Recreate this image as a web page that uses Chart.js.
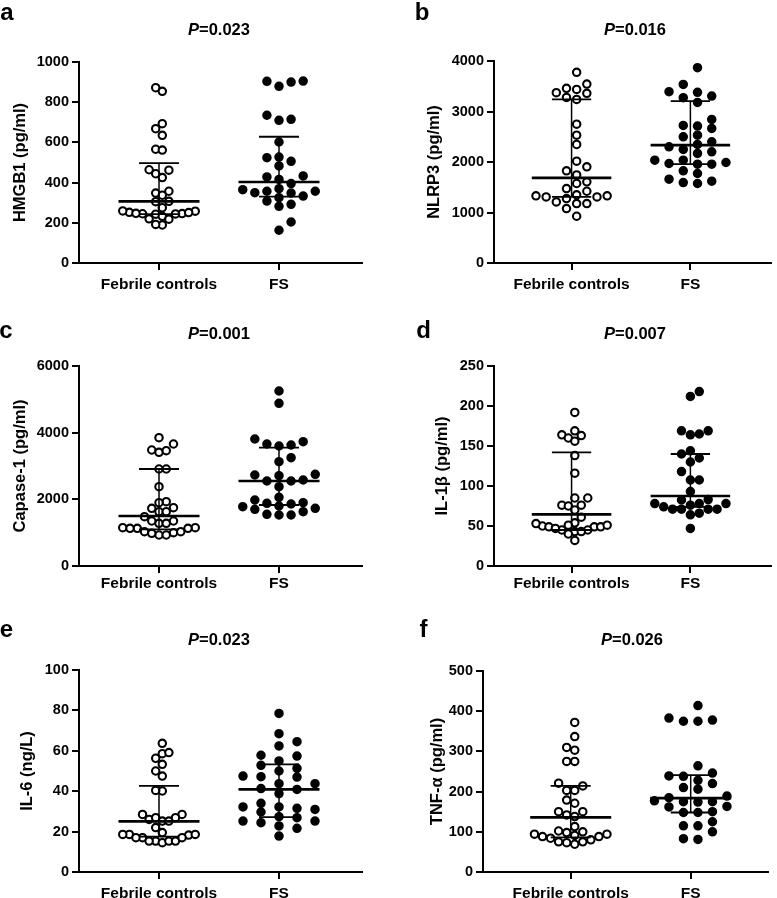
<!DOCTYPE html>
<html><head><meta charset="utf-8">
<script src="https://cdn.jsdelivr.net/npm/chart.js@4.4.1/dist/chart.umd.min.js"></script>
<style>
html,body{margin:0;padding:0;background:#fff;}
#wrap{position:relative;width:777px;height:898px;overflow:hidden;font-family:'Liberation Sans',Arial,Helvetica,sans-serif;}
canvas{position:absolute;}
.lab{position:absolute;font-weight:bold;font-size:24px;line-height:24px;width:30px;text-align:center;color:#000;}
.pt{position:absolute;font-weight:bold;font-size:16.5px;line-height:16px;width:120px;text-align:center;color:#000;white-space:nowrap;}
</style></head><body><div id="wrap"></div>
<script>
// ---------------- data ----------------
const categories = ['Febrile controls', 'FS'];
const panelLetters = ['a', 'b', 'c', 'd', 'e', 'f'];
const pValues = ['0.023', '0.016', '0.001', '0.007', '0.023', '0.026'];
const yTitles = ['HMGB1 (pg/ml)', 'NLRP3 (pg/ml)', 'Capase-1 (pg/ml)', 'IL-1β (pg/ml)', 'IL-6 (ng/L)', 'TNF-α (pg/ml)'];

const hmgb1Febrile = [872, 854, 693, 668, 635, 566, 562, 464, 462, 444, 425, 348, 357, 337, 307, 305, 275, 252, 245, 246, 244, 259, 258, 247, 243, 251, 232, 220, 218, 189, 192];
const hmgb1FS = [905, 904, 879, 900, 735, 715, 710, 602, 524, 527, 506, 483, 416, 428, 433, 395, 365, 348, 350, 370, 357, 333, 357, 308, 282, 292, 325, 204, 163];
const hmgb1Median = [307, 403];
const hmgb1Q1 = [243, 330];
const hmgb1Q3 = [497, 628];
const hmgb1Ticks = [0, 200, 400, 600, 800, 1000];

const nlrp3Febrile = [3775, 3372, 3359, 3458, 3544, 3438, 3279, 3240, 2750, 2532, 2347, 1904, 2017, 1825, 1745, 1607, 1574, 1474, 1421, 1276, 1330, 1350, 1309, 1330, 1309, 1177, 1210, 1078, 1177, 926];
const nlrp3FS = [3868, 3392, 3306, 3379, 3537, 3273, 3180, 2843, 2711, 2724, 2664, 2532, 2347, 2400, 2499, 2202, 2301, 2248, 2169, 1957, 1990, 2036, 2036, 1957, 1970, 1825, 1772, 1593, 1660, 1574, 1620];
const nlrp3Median = [1686, 2334];
const nlrp3Q1 = [1310, 1957];
const nlrp3Q3 = [3240, 3207];
const nlrp3Ticks = [0, 1000, 2000, 3000, 4000];

const casp1Febrile = [3850, 3660, 3480, 3410, 3460, 2910, 2910, 2380, 1930, 1900, 1750, 1630, 1730, 1630, 1280, 1150, 1130, 1150, 1350, 1280, 1350, 1130, 1000, 930, 980, 1030, 930, 1030, 1130, 1480];
const casp1FS = [5250, 4880, 3730, 3630, 3660, 3810, 3600, 3250, 3130, 2710, 2580, 2730, 2750, 2550, 2550, 2380, 2060, 1860, 1780, 1900, 1800, 1980, 1880, 1550, 1630, 1730, 1530, 1700, 1530];
const casp1Median = [1500, 2550];
const casp1Q1 = [1100, 1830];
const casp1Q3 = [2910, 3550];
const casp1Ticks = [0, 2000, 4000, 6000];

const il1bFebrile = [192, 169, 164, 163, 160, 156, 138, 116, 85, 85, 76, 76, 75, 70, 61, 54, 49, 45, 50, 43, 49, 53, 45, 47, 43, 49, 51, 51, 32, 40];
const il1bFS = [218, 212, 169, 169, 165, 164, 144, 140, 135, 130, 118, 107.5, 107.5, 93, 82.5, 83, 78, 71, 78, 71, 76, 71, 71, 74, 78, 64, 66, 47];
const il1bMedian = [64.6, 87.5];
const il1bQ1 = [45, 74];
const il1bQ3 = [142, 140];
const il1bTicks = [0, 50, 100, 150, 200, 250];

const il6Febrile = [63.7, 58.6, 59.1, 56.3, 53.3, 50, 47.5, 40.1, 40.4, 28.5, 25.2, 26, 26.9, 28.5, 25.2, 26.9, 18.3, 18.6, 18.6, 18.6, 15.3, 17, 14.5, 15.3, 15.3, 15.3, 19.5, 17, 17, 22];
const il6FS = [78.5, 68.5, 64.5, 62.4, 52.8, 55, 57.8, 57.4, 50, 51.3, 47.5, 47.2, 47, 43.7, 43.7, 38.8, 40.9, 41.3, 32.2, 32.2, 34, 31, 31.5, 27.4, 29.7, 25.2, 25.2, 26.9, 24.4, 22.8, 21.6, 17.8];
const il6Median = [25.1, 40.9];
const il6Q1 = [17.5, 27.2];
const il6Q3 = [42.6, 53.3];
const il6Ticks = [0, 20, 40, 60, 80, 100];

const tnfFebrile = [372, 337, 303, 310, 275, 275, 221, 214, 203, 203, 179, 171, 150, 138, 142, 150, 113, 100, 91, 80, 88, 88, 98, 94, 75, 75, 102, 84, 94, 73, 69];
const tnfFS = [414, 383, 375, 378, 375, 264, 246, 239, 238, 228, 220, 206, 210, 189, 175, 185, 175, 177, 174, 163, 162, 148, 148, 150, 125, 115, 115, 100, 81, 83];
const tnfMedian = [136, 184];
const tnfQ1 = [86, 148];
const tnfQ3 = [214, 241];
const tnfTicks = [0, 100, 200, 300, 400, 500];

// ---------------- layout ----------------
const FONT = "'Liberation Sans', Arial, Helvetica, sans-serif";
const geo = [
  {left:0,   top:0,   w:388, h:298, axL:79,  axR:362, axT:62, axB:263, c1:159,   c2:279,   tX:20,   xPad:5, lx:7,     lb:20,    px:219, py:29},
  {left:388, top:0,   w:389, h:298, axL:106, axR:388, axT:61, axB:263, c1:185,   c2:306,   tX:46,   xPad:5, lx:422,   lb:20.7,  px:635, py:29},
  {left:0,   top:298, w:388, h:298, axL:79,  axR:362, axT:68, axB:268, c1:159,   c2:279,   tX:20.3, xPad:1, lx:6,     lb:338,   px:219, py:333},
  {left:388, top:298, w:389, h:298, axL:106, axR:388, axT:68, axB:268, c1:185,   c2:306,   tX:54,   xPad:1, lx:423.5, lb:338,   px:635, py:333},
  {left:0,   top:596, w:388, h:302, axL:79,  axR:362, axT:74, axB:276, c1:159,   c2:279,   tX:27,   xPad:5, lx:6.3,   lb:637.7, px:219, py:639},
  {left:388, top:596, w:389, h:302, axL:95,  axR:380, axT:75, axB:276, c1:182.7, c2:302.7, tX:49.7, xPad:5, lx:423.5, lb:637.7, px:632, py:639}
];
const DOT_R = 3.7, DOT_W = 2.1;
const DV = 8.5;        // min vertical gap of two dots sharing a column (px)
const SPREAD = 72.5;   // distance between outermost columns (px)
const MAX_STEP = 18;   // widest column spacing (px)

// column dot-plot layout (layout only, derived from the values)
function swarm(vals, pxPerY) {
  const order = vals.map((v, i) => i).sort((a, b) => vals[a] - vals[b]);
  function run(even) {
    const cols = new Map();
    const pos = new Array(vals.length).fill(0);
    for (const i of order) {
      const y = vals[i] * pxPerY;
      for (let k = 0; k < 400; k++) {
        const j = even ? (k % 2 === 0 ? 1 : -1) * (Math.floor(k / 2) + 0.5)
                       : (k % 2 ? 1 : -1) * Math.ceil(k / 2);
        const key = String(j);
        const list = cols.get(key) || [];
        if (list.every(yy => Math.abs(yy - y) >= DV)) {
          list.push(y); cols.set(key, list); pos[i] = j; break;
        }
      }
    }
    return {pos, maxAbs: Math.max(...pos.map(Math.abs))};
  }
  const o = run(false), e = run(true);
  const best = e.maxAbs < o.maxAbs ? e : o;
  const S = best.maxAbs > 0 ? Math.min(SPREAD / (2 * best.maxAbs), MAX_STEP) : 0;
  return best.pos.map(j => j * S);
}

const wrap = document.getElementById('wrap');

function makePanel(i, febrile, fs, med, q1, q3, ticks) {
  const g = geo[i];
  const unit = g.c2 - g.c1;
  const xmin = 1 - (g.c1 - g.axL) / unit;
  const xmax = 2 + (g.axR - g.c2) / unit;
  const ymax = ticks[ticks.length - 1];
  const pxPerY = (g.axB - g.axT) / ymax;
  const offA = swarm(febrile, pxPerY), offB = swarm(fs, pxPerY);
  const ptsA = febrile.map((v, k) => ({x: 1 + offA[k] / unit, y: v}));
  const ptsB = fs.map((v, k) => ({x: 2 + offB[k] / unit, y: v}));
  const capHalf = 20 / unit, medHalf = 40.5 / unit;

  const canvas = document.createElement('canvas');
  canvas.width = g.w; canvas.height = g.h;
  canvas.style.left = g.left + 'px'; canvas.style.top = g.top + 'px';
  canvas.style.width = g.w + 'px'; canvas.style.height = g.h + 'px';
  wrap.appendChild(canvas);

  const lineDs = (pts, w) => ({type: 'line', data: pts, borderColor: '#000', borderWidth: w,
    pointRadius: 0, fill: false, order: 0, clip: false, tension: 0});
  const datasets = [
    {type: 'scatter', data: ptsA, backgroundColor: '#fff', borderColor: '#000', borderWidth: DOT_W, pointRadius: DOT_R, order: 1, clip: false},
    {type: 'scatter', data: ptsB, backgroundColor: '#000', borderColor: '#000', borderWidth: DOT_W, pointRadius: DOT_R, order: 1, clip: false}
  ];
  [0, 1].forEach(j => {
    const c = j + 1;
    datasets.push(lineDs([{x: c, y: q1[j]}, {x: c, y: q3[j]}], 1.5));
    datasets.push(lineDs([{x: c - capHalf, y: q3[j]}, {x: c + capHalf, y: q3[j]}], 1.8));
    datasets.push(lineDs([{x: c - capHalf, y: q1[j]}, {x: c + capHalf, y: q1[j]}], 1.8));
    datasets.push(lineDs([{x: c - medHalf, y: med[j]}, {x: c + medHalf, y: med[j]}], 2.7));
  });

  const gridCfg = {drawOnChartArea: false, drawTicks: true, tickLength: 7, tickColor: '#000', tickWidth: 2, color: '#000', lineWidth: 2};
  const borderCfg = {display: true, color: '#000', width: 2};

  new Chart(canvas, {
    type: 'scatter',
    data: {datasets},
    options: {
      responsive: false, animation: false, events: [], devicePixelRatio: 1,
      layout: {padding: {left: 0, top: g.axT, right: g.w - g.axR, bottom: 0}},
      plugins: {legend: {display: false}, tooltip: {enabled: false}, title: {display: false}},
      scales: {
        x: {
          type: 'linear', min: xmin, max: xmax,
          afterBuildTicks: s => { s.ticks = [{value: 1}, {value: 2}]; },
          afterFit: s => { s.height = g.h - g.axB; },
          ticks: {callback: v => categories[Math.round(v) - 1], color: '#000',
            font: {family: FONT, size: 15.5, weight: 'bold'}, padding: g.xPad, maxRotation: 0, autoSkip: false},
          grid: gridCfg, border: borderCfg
        },
        y: {
          type: 'linear', min: 0, max: ymax,
          afterBuildTicks: s => { s.ticks = ticks.map(v => ({value: v})); },
          afterFit: s => { s.width = g.axL; },
          ticks: {callback: v => String(v), color: '#000', font: {family: FONT, size: 14.5, weight: 'bold'}, padding: 3, autoSkip: false},
          grid: gridCfg, border: borderCfg,
          title: {display: true, text: yTitles[i], color: '#000',
            font: {family: FONT, size: 16.5, weight: 'bold'}, padding: {top: g.tX - 9.9, bottom: 0}}
        }
      }
    }
  });

  const lab = document.createElement('div');
  lab.className = 'lab';
  lab.textContent = panelLetters[i];
  lab.style.left = (g.lx - 15) + 'px';
  lab.style.top = (g.lb - 0.8465 * 24) + 'px';
  wrap.appendChild(lab);

  const pt = document.createElement('div');
  pt.className = 'pt';
  pt.innerHTML = '<i>P</i>=' + pValues[i];
  pt.style.left = (g.px - 60) + 'px';
  pt.style.top = (g.py - 8) + 'px';
  wrap.appendChild(pt);
}

makePanel(0, hmgb1Febrile, hmgb1FS, hmgb1Median, hmgb1Q1, hmgb1Q3, hmgb1Ticks);
makePanel(1, nlrp3Febrile, nlrp3FS, nlrp3Median, nlrp3Q1, nlrp3Q3, nlrp3Ticks);
makePanel(2, casp1Febrile, casp1FS, casp1Median, casp1Q1, casp1Q3, casp1Ticks);
makePanel(3, il1bFebrile, il1bFS, il1bMedian, il1bQ1, il1bQ3, il1bTicks);
makePanel(4, il6Febrile, il6FS, il6Median, il6Q1, il6Q3, il6Ticks);
makePanel(5, tnfFebrile, tnfFS, tnfMedian, tnfQ1, tnfQ3, tnfTicks);
</script></body></html>
